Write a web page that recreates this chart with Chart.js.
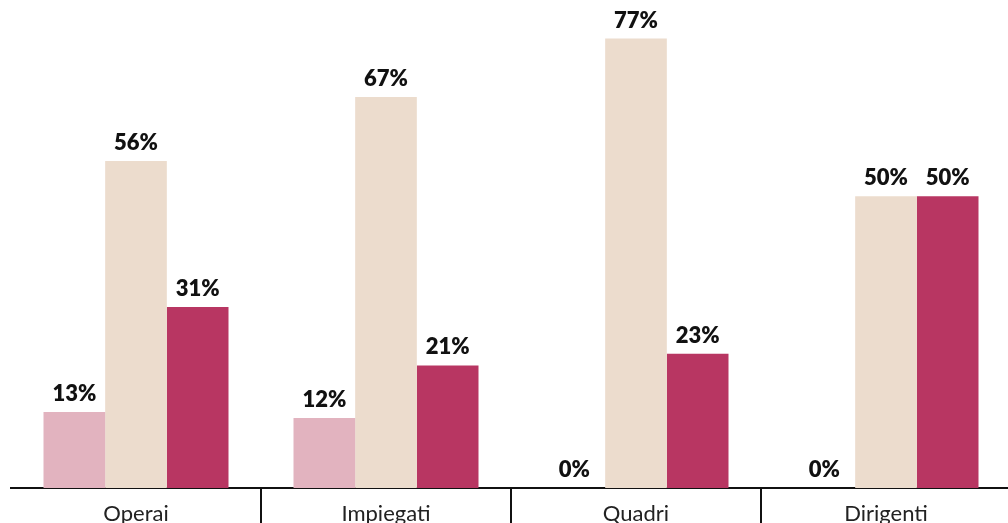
<!DOCTYPE html>
<html>
<head>
<meta charset="utf-8">
<script src="https://cdn.jsdelivr.net/npm/chart.js@4.4.1/dist/chart.umd.min.js"></script>
<style>
  html, body { margin: 0; padding: 0; background: #fff; overflow: hidden; }
  #wrap { width: 1011px; height: 523px; position: relative; }
</style>
</head>
<body>
<div id="wrap"><canvas id="chart"></canvas></div>
<script>
// Chart data
const categories = ['Operai', 'Impiegati', 'Quadri', 'Dirigenti'];
const seriesNames = ['Serie 1', 'Serie 2', 'Serie 3'];
const serie1 = [13, 12, 0, 0];
const serie2 = [56, 67, 77, 50];
const serie3 = [31, 21, 23, 50];
const seriesColors = ['#e2b3bf', '#ecdccd', '#b83662'];

// Percent labels above every bar
const valueLabels = {
    id: 'valueLabels',
    afterDatasetsDraw(chart) {
        const ctx = chart.ctx;
        ctx.save();
        ctx.font = '800 22px Lato, "Noto Sans", sans-serif';
        ctx.fillStyle = '#111';
        ctx.textAlign = 'center';
        ctx.textBaseline = 'alphabetic';
        chart.data.datasets.forEach((ds, i) => {
            chart.getDatasetMeta(i).data.forEach((bar, j) => {
                ctx.fillText(ds.data[j] + '%', bar.x, bar.y - 11);
            });
        });
        ctx.restore();
    }
};

const ctx = document.getElementById('chart').getContext('2d');
const chart = new Chart(ctx, {
    type: 'bar',
    data: {
        labels: categories,
        datasets: [serie1, serie2, serie3].map((d, i) => ({
            label: seriesNames[i],
            data: d,
            backgroundColor: seriesColors[i],
            borderWidth: 0,
            categoryPercentage: 0.74,
            barPercentage: 1.0
        }))
    },
    options: {
        responsive: true,
        maintainAspectRatio: false,
        animation: false,
        layout: { padding: { left: 11, right: 0, top: 0, bottom: 0 } },
        plugins: {
            legend: { display: false },
            tooltip: { enabled: false }
        },
        scales: {
            x: {
                afterFit(scale) { scale.height = 35; },
                grid: {
                    offset: true,
                    drawOnChartArea: false,
                    drawTicks: true,
                    tickLength: 40,
                    lineWidth: 2,
                    color: c => (c.index === 0 || c.index === categories.length) ? 'rgba(0,0,0,0)' : '#111'
                },
                border: { display: true, color: '#111', width: 2 },
                ticks: {
                    padding: -27,
                    color: '#222',
                    font: { family: 'Lato, "Noto Sans", sans-serif', size: 22 }
                }
            },
            y: {
                display: false,
                min: 0,
                max: 83.6
            }
        }
    },
    plugins: [valueLabels]
});
</script>
</body>
</html>
